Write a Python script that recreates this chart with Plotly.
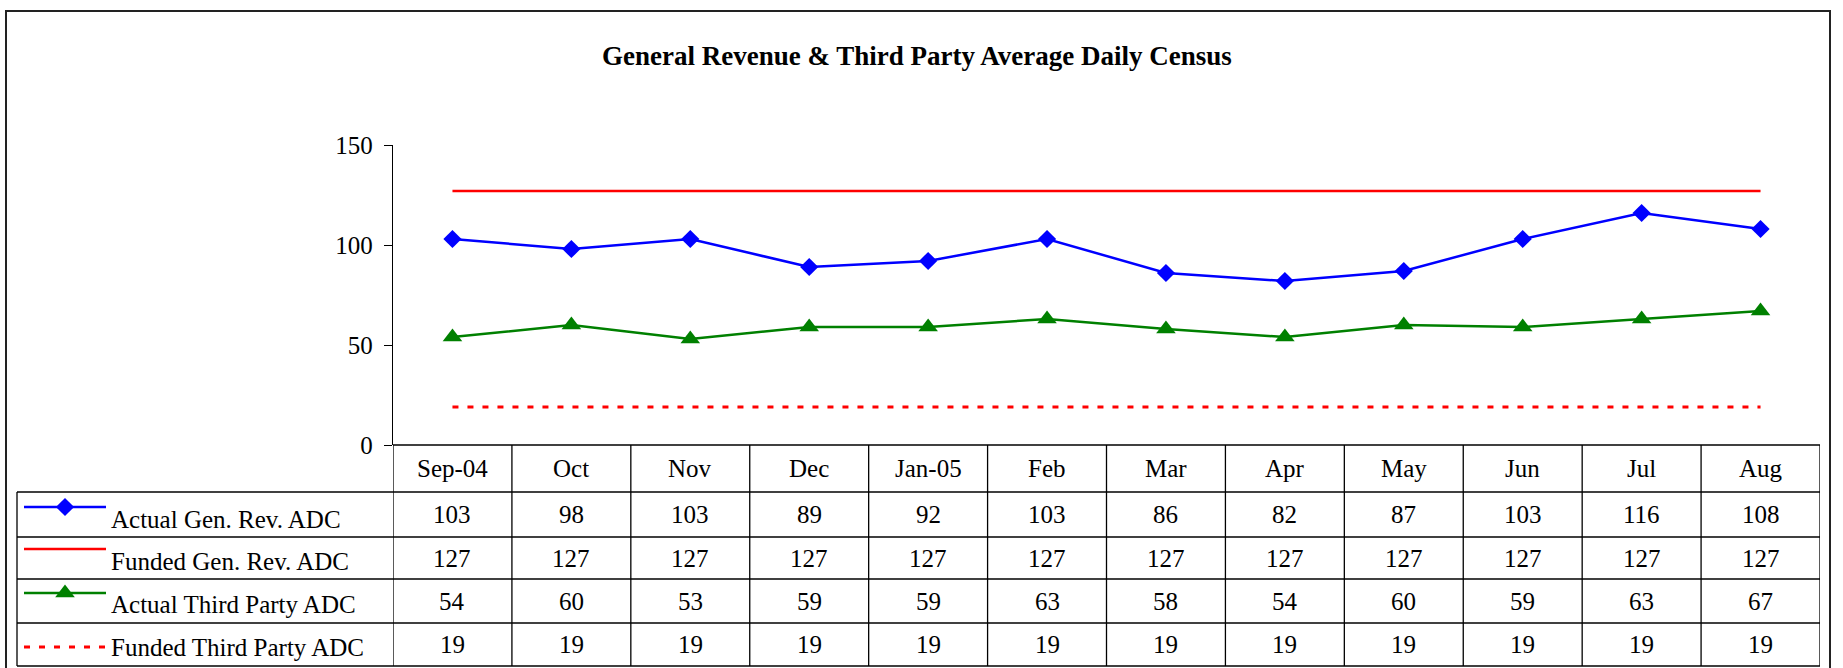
import plotly.graph_objects as go

# ---- data -------------------------------------------------------------
months = ["Sep-04", "Oct", "Nov", "Dec", "Jan-05", "Feb",
          "Mar", "Apr", "May", "Jun", "Jul", "Aug"]
actual_gen_rev = [103, 98, 103, 89, 92, 103, 86, 82, 87, 103, 116, 108]
funded_gen_rev = [127, 127, 127, 127, 127, 127, 127, 127, 127, 127, 127, 127]
actual_third_party = [54, 60, 53, 59, 59, 63, 58, 54, 60, 59, 63, 67]
funded_third_party = [19, 19, 19, 19, 19, 19, 19, 19, 19, 19, 19, 19]

series_names = ["Actual Gen. Rev. ADC", "Funded Gen. Rev. ADC",
                "Actual Third Party ADC", "Funded Third Party ADC"]
series_values = [actual_gen_rev, funded_gen_rev,
                 actual_third_party, funded_third_party]
y_ticks = [0, 50, 100, 150]
title_text = "General Revenue & Third Party Average Daily Census"

# ---- page geometry (pixels) -------------------------------------------
W, H = 1843, 668
AX_LEFT, AX_RIGHT = 393, 1820          # plot / table columns
Y_ZERO, Y_TOP = 445, 145               # value 0 and value 150
ROW_EDGES = [445, 492, 537, 579, 623, 666]
TABLE_LEFT = 17
FONT = "Liberation Serif, Times New Roman, serif"


def fx(p):
    return p / W


def fy(p):
    return 1 - p / H


styles = [
    dict(line=dict(color="#0000FF", width=2.5),
         marker=dict(symbol="diamond", size=14, color="#0000FF"), mode="lines+markers"),
    dict(line=dict(color="#FF0000", width=2.5), mode="lines"),
    dict(line=dict(color="#008000", width=2.5),
         marker=dict(symbol="triangle-up", size=17, color="#008000"), mode="lines+markers"),
    dict(line=dict(color="#FF0000", width=3, dash="6px,9px"), mode="lines"),
]

fig = go.Figure()

# chart series (drawn bottom-up so the blue line sits on top)
for name, vals, st in reversed(list(zip(series_names, series_values, styles))):
    fig.add_trace(go.Scatter(x=months, y=vals, name=name, showlegend=False,
                             hoverinfo="x+y+name", cliponaxis=False, **st))

# legend keys inside the table's first column (pixel-space helper axes)
key_y = [507, 549, 593, 647]
label_y = [519, 561, 604, 647]
for ky, st in zip(key_y, styles):
    fig.add_trace(go.Scatter(x=[24, 106], y=[ky, ky], mode="lines", line=st["line"],
                             xaxis="x2", yaxis="y2", showlegend=False, hoverinfo="skip"))
    if "marker" in st:
        fig.add_trace(go.Scatter(x=[65], y=[ky], mode="markers", marker=st["marker"],
                                 xaxis="x2", yaxis="y2", showlegend=False, hoverinfo="skip"))

shapes = []
line_black = dict(color="#000000", width=1.3)

# outer frame
shapes.append(dict(type="rect", xref="paper", yref="paper",
                   x0=fx(6), x1=fx(1830), y0=fy(672), y1=fy(11),
                   line=dict(color="#222222", width=2), fillcolor="rgba(0,0,0,0)"))

# table: top edge along the category axis
shapes.append(dict(type="line", xref="paper", yref="paper",
                   x0=fx(AX_LEFT), x1=fx(AX_RIGHT), y0=fy(Y_ZERO), y1=fy(Y_ZERO),
                   line=line_black))
# table: row separators
for r in ROW_EDGES[1:]:
    shapes.append(dict(type="line", xref="paper", yref="paper",
                       x0=fx(TABLE_LEFT), x1=fx(AX_RIGHT), y0=fy(r), y1=fy(r),
                       line=line_black))
# table: column separators at category boundaries
for i in range(len(months) + 1):
    shapes.append(dict(type="line", xref="x", yref="paper",
                       x0=i - 0.5, x1=i - 0.5, y0=fy(Y_ZERO), y1=fy(ROW_EDGES[-1]),
                       line=line_black))
# table: left edge of the series-name column
shapes.append(dict(type="line", xref="paper", yref="paper",
                   x0=fx(TABLE_LEFT), x1=fx(TABLE_LEFT),
                   y0=fy(ROW_EDGES[1]), y1=fy(ROW_EDGES[-1]), line=line_black))

annotations = []
cell_font = dict(family=FONT, size=25, color="#000000")

# title
annotations.append(dict(xref="paper", yref="paper", x=fx(917), y=fy(56),
                        text="<b>" + title_text + "</b>", showarrow=False,
                        xanchor="center", yanchor="middle",
                        font=dict(family=FONT, size=27, color="#000000")))

# header row: month names
hdr_y = (ROW_EDGES[0] + ROW_EDGES[1]) / 2
for m in months:
    annotations.append(dict(xref="x", yref="paper", x=m, y=fy(hdr_y), text=m,
                            showarrow=False, xanchor="center", yanchor="middle",
                            font=cell_font))

# data rows
for r, (name, vals) in enumerate(zip(series_names, series_values)):
    cy = (ROW_EDGES[r + 1] + ROW_EDGES[r + 2]) / 2
    for m, v in zip(months, vals):
        annotations.append(dict(xref="x", yref="paper", x=m, y=fy(cy), text=str(v),
                                showarrow=False, xanchor="center", yanchor="middle",
                                font=cell_font))
    annotations.append(dict(xref="paper", yref="paper", x=fx(109), y=fy(label_y[r]),
                            text=name, showarrow=False, xanchor="left",
                            yanchor="middle", font=cell_font))

fig.update_layout(
    width=W, height=H, autosize=False,
    margin=dict(l=0, r=0, t=0, b=0, pad=0, autoexpand=False),
    paper_bgcolor="white", plot_bgcolor="rgba(0,0,0,0)",
    showlegend=False,
    xaxis=dict(domain=[fx(AX_LEFT), fx(AX_RIGHT)], type="category",
               categoryorder="array", categoryarray=months,
               range=[-0.5, len(months) - 0.5], showticklabels=False,
               showgrid=False, zeroline=False, showline=False, ticks="",
               automargin=False, fixedrange=True),
    yaxis=dict(domain=[fy(Y_ZERO), fy(Y_TOP)], range=[0, 150],
               tickmode="array", tickvals=y_ticks,
               ticks="outside", ticklen=8, tickwidth=1.3, tickcolor="#000000",
               showline=True, linecolor="#000000", linewidth=1.3,
               showgrid=False, zeroline=False, ticklabelstandoff=6,
               automargin=False, fixedrange=True,
               tickfont=dict(family=FONT, size=25, color="#000000")),
    xaxis2=dict(domain=[0, 1], range=[0, W], visible=False, anchor="y2",
                automargin=False, fixedrange=True),
    yaxis2=dict(domain=[0, 1], range=[H, 0], visible=False, anchor="x2",
                automargin=False, fixedrange=True),
    shapes=shapes,
    annotations=annotations,
)

fig.write_html("out.html")
